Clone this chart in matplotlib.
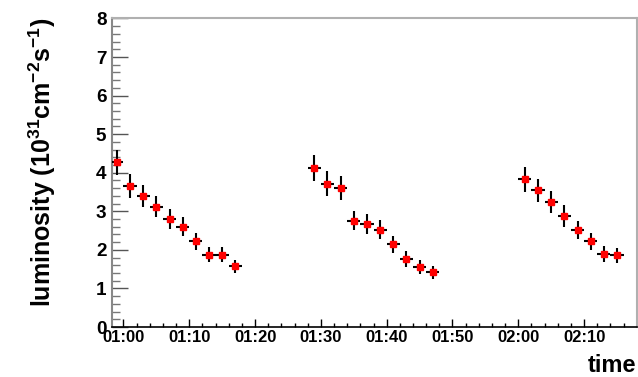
import matplotlib
matplotlib.use("Agg")
import matplotlib.pyplot as plt
import matplotlib.dates as mdates
from datetime import datetime

plt.rcParams['font.family'] = ['Liberation Sans', 'DejaVu Sans']
plt.rcParams['mathtext.fontset'] = 'custom'
plt.rcParams['mathtext.rm'] = 'Liberation Sans:bold'
plt.rcParams['mathtext.it'] = 'Liberation Sans:bold'
plt.rcParams['mathtext.bf'] = 'Liberation Sans:bold'
plt.rcParams['mathtext.default'] = 'rm'

# data: bin centres (HH:MM), luminosity (1e31 cm^-2 s^-1), errors
times = ["00:59", "01:01", "01:03", "01:05", "01:07", "01:09", "01:11", "01:13", "01:15", "01:17",
         "01:29", "01:31", "01:33", "01:35", "01:37", "01:39", "01:41", "01:43", "01:45", "01:47",
         "02:01", "02:03", "02:05", "02:07", "02:09", "02:11", "02:13", "02:15"]
lumi = [4.27, 3.66, 3.40, 3.12, 2.81, 2.60, 2.22, 1.88, 1.88, 1.58,
        4.12, 3.72, 3.60, 2.76, 2.67, 2.52, 2.14, 1.77, 1.56, 1.42,
        3.83, 3.55, 3.23, 2.88, 2.51, 2.22, 1.89, 1.86]
lumi_err = [0.33, 0.32, 0.29, 0.28, 0.26, 0.25, 0.22, 0.20, 0.20, 0.17,
            0.34, 0.32, 0.31, 0.25, 0.26, 0.25, 0.22, 0.21, 0.18, 0.17,
            0.32, 0.30, 0.285, 0.28, 0.24, 0.22, 0.20, 0.20]
bin_halfwidth_min = 1.0
x_start = "00:58:15"
x_end = "02:18:00"

def to_num(s):
    fmt = "%H:%M:%S" if s.count(":") == 2 else "%H:%M"
    return mdates.date2num(datetime.strptime("2010-03-30 " + s, "%Y-%m-%d " + fmt))

x = [to_num(t) for t in times]
xerr = bin_halfwidth_min / (24 * 60)

fig = plt.figure(figsize=(6.38, 3.77), dpi=100)
ax = fig.add_axes([0.1755, 0.1326, 0.8225, 0.8184])

ax.errorbar(x, lumi, yerr=lumi_err, xerr=xerr, fmt='s', color='red', ms=4.3,
            mec='red', ecolor='black', elinewidth=1.5, capsize=0, zorder=3)

ax.set_xlim(to_num(x_start), to_num(x_end))
ax.set_ylim(0, 8)

ax.xaxis.set_major_locator(mdates.MinuteLocator(byminute=range(0, 60, 10)))
ax.xaxis.set_minor_locator(mdates.MinuteLocator(byminute=range(0, 60, 2)))
ax.xaxis.set_major_formatter(mdates.DateFormatter("%H:%M"))
ax.yaxis.set_major_locator(plt.MultipleLocator(1))
ax.yaxis.set_minor_locator(plt.MultipleLocator(0.2))

ax.tick_params(axis='y', which='major', direction='in', length=11.5, width=1.0,
               color='#555555', labelsize=13.6, pad=4)
ax.tick_params(axis='y', which='minor', direction='in', length=5.5, width=1.0, color='#777777')
ax.tick_params(axis='x', which='major', direction='in', length=6, width=1.0,
               color='black', labelsize=12, pad=2.5)
ax.tick_params(axis='x', which='minor', direction='in', length=3, width=1.0, color='black')
for lab in ax.get_xticklabels() + ax.get_yticklabels():
    lab.set_fontweight('bold')

for side in ['top', 'right']:
    ax.spines[side].set_color('#b0b0b0')
    ax.spines[side].set_linewidth(1.5)
ax.spines['left'].set_color('#888888')
ax.spines['left'].set_linewidth(1.5)
ax.spines['bottom'].set_color('black')
ax.spines['bottom'].set_linewidth(1.2)

ax.set_ylabel(r"luminosity (10$^{31}$cm$^{-2}$s$^{-1}$)", fontsize=18, fontweight='bold')
ax.yaxis.set_label_coords(-0.103, 0.533)
fig.text(0.997, 0.014, "time", ha='right', va='baseline', fontsize=17, fontweight='bold')

fig.savefig("out.png", dpi=100)
